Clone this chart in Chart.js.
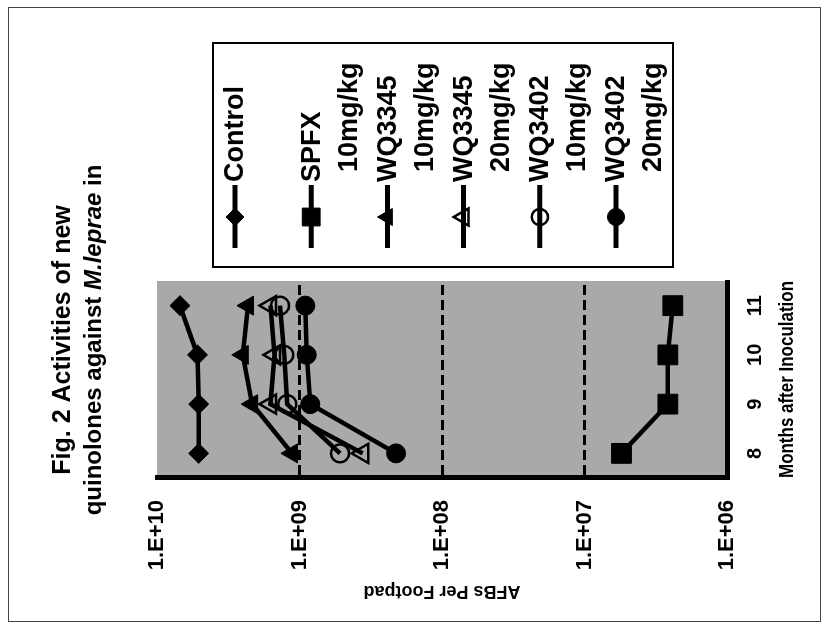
<!DOCTYPE html>
<html><head><meta charset="utf-8">
<script src="https://cdn.jsdelivr.net/npm/chart.js@4.4.1/dist/chart.umd.min.js"></script>
<style>
html,body{margin:0;padding:0;background:#fff;overflow:hidden;width:828px;height:626px;}
#wrap{position:absolute;left:0;top:0;width:626px;height:828px;transform-origin:0 0;transform:translate(0px,626px) rotate(-90deg);}
canvas{display:block;}
</style></head><body>
<div id="wrap"><canvas id="c" width="626" height="828"></canvas></div>
<script>
// ---- data ----
const months = ['8', '9', '10', '11'];
const control   = [5.1e9, 5.1e9, 5.2e9, 6.9e9];
const spfx10    = [5.5e6, 2.6e6, 2.6e6, 2.4e6];
const wq3345_10 = [1.13e9, 2.15e9, 2.5e9, 2.3e9];
const wq3345_20 = [3.6e8, 1.6e9, 1.5e9, 1.6e9];
const wq3402_10 = [5.2e8, 1.22e9, 1.28e9, 1.37e9];
const wq3402_20 = [2.1e8, 8.4e8, 8.9e8, 9.1e8];
const seriesNames = ['Control', 'SPFX', 'WQ3345', 'WQ3345', 'WQ3402', 'WQ3402'];
const seriesDoses = ['', '10mg/kg', '10mg/kg', '20mg/kg', '10mg/kg', '20mg/kg'];
const yTickValues = [1e6, 1e7, 1e8, 1e9, 1e10];
const yTickLabels = ['1.E+06', '1.E+07', '1.E+08', '1.E+09', '1.E+10'];
const titleLine1 = 'Fig. 2 Activities of new';
const titleLine2 = ['quinolones against ', 'M.leprae', ' in'];
const xTitle = 'Months after Inoculation';
const yTitle = 'AFBs Per Footpad';

const FAM = '"Liberation Sans", Arial, Helvetica, sans-serif';
const seriesValues = [control, spfx10, wq3345_10, wq3345_20, wq3402_10, wq3402_20];
const markers = [
  {style: 'rectRot', r: 10, filled: true},
  {style: 'rect', r: 14, filled: true},
  {style: 'triangle', r: 11, filled: true},
  {style: 'triangle', r: 11, filled: false},
  {style: 'circle', r: 9, filled: false},
  {style: 'circle', r: 9.5, filled: true}
];

const datasets = seriesValues.map((vals, i) => ({
  label: seriesNames[i] + (seriesDoses[i] ? ' ' + seriesDoses[i] : ''),
  data: vals,
  borderColor: '#000',
  borderWidth: 4.5,
  backgroundColor: '#000',
  pointStyle: markers[i].style,
  pointRadius: markers[i].r,
  pointHoverRadius: markers[i].r,
  pointBackgroundColor: markers[i].filled ? '#000' : 'rgba(0,0,0,0)',
  pointBorderColor: '#000',
  pointBorderWidth: markers[i].filled ? 1 : 2.5,
  fill: false,
  tension: 0
}));

const bgPlugin = {
  id: 'bg',
  beforeDraw(chart) {
    const {ctx, chartArea: a} = chart;
    ctx.save();
    ctx.fillStyle = '#a9a9a9';
    ctx.fillRect(a.left, a.top, a.right - a.left, a.bottom - a.top);
    // outer frame
    ctx.strokeStyle = '#444';
    ctx.lineWidth = 1;
    ctx.strokeRect(4.5, 8.5, 614, 812);
    ctx.restore();
  }
};

const titlePlugin = {
  id: 'figtitle',
  afterDraw(chart) {
    const ctx = chart.ctx;
    const cx = 286;
    ctx.save();
    ctx.fillStyle = '#000';
    ctx.textBaseline = 'alphabetic';
    const fB = 'bold 24px ' + FAM, fI = 'italic bold 24px ' + FAM;
    ctx.font = 'bold 25px ' + FAM;
    ctx.textAlign = 'center';
    ctx.fillText(titleLine1, cx, 70);
    ctx.textAlign = 'left';
    const fonts = [fB, fI, fB];
    let widths = titleLine2.map((t, i) => { ctx.font = fonts[i]; return ctx.measureText(t).width; });
    let x = cx - widths.reduce((s, w) => s + w, 0) / 2;
    titleLine2.forEach((t, i) => { ctx.font = fonts[i]; ctx.fillText(t, x, 101); x += widths[i]; });
    ctx.restore();
  }
};

const legendPlugin = {
  id: 'figlegend',
  afterDraw(chart) {
    const ctx = chart.ctx;
    ctx.save();
    ctx.strokeStyle = '#000';
    ctx.lineWidth = 2;
    ctx.strokeRect(359, 213, 224, 460);
    ctx.textBaseline = 'middle';
    ctx.textAlign = 'left';
    chart.data.datasets.forEach((ds, i) => {
      const cy = 235 + i * 76.2;
      ctx.strokeStyle = '#000';
      ctx.lineWidth = 5;
      ctx.beginPath(); ctx.moveTo(378, cy); ctx.lineTo(441, cy); ctx.stroke();
      ctx.fillStyle = ds.pointBackgroundColor;
      ctx.lineWidth = ds.pointBorderWidth;
      Chart.helpers.drawPoint(ctx, {pointStyle: ds.pointStyle, radius: ds.pointRadius * 0.9, rotation: 0, borderWidth: ds.pointBorderWidth}, 409, cy);
      ctx.fillStyle = '#000';
      ctx.font = 'bold 27px ' + FAM;
      ctx.fillText(seriesNames[i], 444, cy + 1);
      if (seriesDoses[i]) ctx.fillText(seriesDoses[i], 454, cy + 38);
    });
    ctx.restore();
  }
};

new Chart(document.getElementById('c'), {
  type: 'line',
  data: {labels: months, datasets},
  plugins: [bgPlugin, titlePlugin, legendPlugin],
  options: {
    responsive: false,
    maintainAspectRatio: false,
    devicePixelRatio: 1,
    animation: false,
    layout: {padding: {left: 0, right: 281, top: 157, bottom: 0}},
    plugins: {legend: {display: false}, title: {display: false}, tooltip: {enabled: false}},
    scales: {
      x: {
        type: 'category',
        offset: true,
        afterFit: s => { s.height = 101; },
        grid: {display: false, drawTicks: false},
        border: {display: true, color: '#000', width: 5},
        ticks: {color: '#000', font: {family: FAM, size: 20, weight: 'bold'}, padding: 16, maxRotation: 0, autoSkip: false},
        title: {display: true, text: xTitle, color: '#000', font: {family: FAM, size: 21, weight: 'bold'}, padding: {top: 0, bottom: 28}}
      },
      y: {
        type: 'logarithmic',
        min: 1e6,
        max: 1e10,
        afterBuildTicks: s => { s.ticks = yTickValues.map(v => ({value: v})); },
        afterFit: s => { s.width = 148; },
        grid: {
          drawTicks: false,
          lineWidth: 3,
          color: c => (c.tick && (c.tick.value === 1e6 || c.tick.value === 1e10)) ? 'rgba(0,0,0,0)' : '#000'
        },
        border: {display: true, color: '#000', width: 5, dash: [10, 5]},
        ticks: {
          color: '#000',
          font: {family: FAM, size: 22, weight: 'bold'},
          padding: 22,
          callback: (v, idx) => yTickLabels[idx]
        },
        title: {display: true, text: yTitle, color: '#000', font: {family: FAM, size: 18, weight: 'bold'}, padding: {top: 24, bottom: 0}}
      }
    }
  }
});
</script>
</body></html>
